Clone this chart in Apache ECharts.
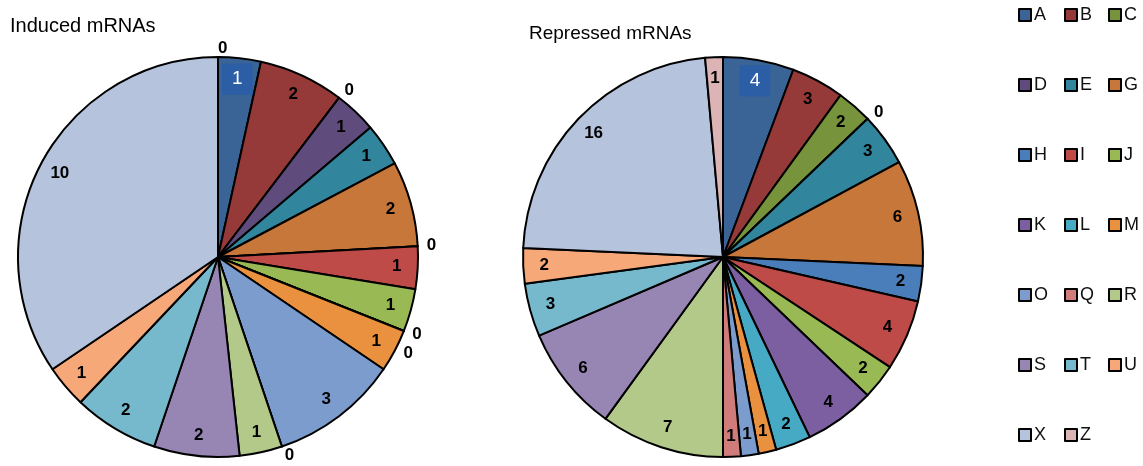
<!DOCTYPE html>
<html>
<head>
<meta charset="utf-8">
<script src="https://cdn.jsdelivr.net/npm/echarts@6/dist/echarts.min.js"></script>
<style>
html, body { margin: 0; padding: 0; background: #fff; }
#chart { width: 1143px; height: 466px; }
</style>
</head>
<body>
<div id="chart"></div>
<script>
var names = ['A', 'B', 'C', 'D', 'E', 'G', 'H', 'I', 'J', 'K', 'L', 'M', 'O', 'Q', 'R', 'S', 'T', 'U', 'X', 'Z'];
var induced = [1, 2, 0, 1, 1, 2, 0, 1, 1, 0, 0, 1, 3, 0, 1, 2, 2, 1, 10, 0];
var repressed = [4, 3, 2, 0, 3, 6, 2, 4, 2, 4, 2, 1, 1, 1, 7, 6, 3, 2, 16, 1];
var colors = ['#3b6496', '#953a38', '#77933c', '#5f4b7c', '#31859c', '#c7773a', '#4a7ebb',
    '#be4b48', '#98b954', '#7c5fa0', '#46aac5', '#e9913f', '#7b9ccd', '#cf7c7b',
    '#b2c98a', '#9785b3', '#76b9cd', '#f6a878', '#b5c3dd', '#dcb4b5'];
var legendCols = [
    ['A', 'D', 'H', 'K', 'O', 'S', 'X'],
    ['B', 'E', 'I', 'L', 'Q', 'T', 'Z'],
    ['C', 'G', 'J', 'M', 'R', 'U']
];

var font = "'Liberation Sans', Arial, sans-serif";

// the solid pie
function sliceData(values) {
    return values.map(function (v, i) {
        return { name: names[i], value: v, itemStyle: { color: colors[i] } };
    });
}

// same slices again, transparent ring, just to place the labels near the rim
function labelData(values) {
    return values.map(function (v, i) {
        var item = { name: names[i], value: v };
        if (v === 0) {
            item.label = { position: 'outside' };
        } else if (i === 0) {
            item.label = {
                color: '#fff', fontWeight: 'normal', fontSize: 19,
                backgroundColor: '#2c5ea6', padding: [6, 10]
            };
        }
        return item;
    });
}

function pieSeries(values, cx) {
    return [{
        type: 'pie',
        center: [cx, 257],
        radius: 200,
        silent: true,
        label: { show: false },
        labelLine: { show: false },
        itemStyle: { borderColor: '#000', borderWidth: 2 },
        data: sliceData(values)
    }, {
        type: 'pie',
        center: [cx, 257],
        radius: [152, 200],
        silent: true,
        legendHoverLink: false,
        itemStyle: { color: 'rgba(0,0,0,0)', borderWidth: 0 },
        label: {
            show: true,
            position: 'inside',
            formatter: '{c}',
            color: '#000',
            fontWeight: 'bold',
            fontSize: 17,
            fontFamily: font,
            distanceToLabelLine: 0
        },
        labelLine: { show: false, length: 9, length2: 0 },
        data: labelData(values)
    }];
}

var chart = echarts.init(document.getElementById('chart'));
chart.setOption({
    animation: false,
    title: [{
        text: 'Induced mRNAs', left: 10, top: 16, padding: 0,
        textStyle: { fontSize: 20, fontWeight: 'normal', color: '#000', fontFamily: font }
    }, {
        text: 'Repressed mRNAs', left: 529, top: 24, padding: 0,
        textStyle: { fontSize: 19, fontWeight: 'normal', color: '#000', fontFamily: font }
    }],
    legend: legendCols.map(function (col, k) {
        return {
            orient: 'vertical',
            left: [1018, 1064, 1108][k],
            top: 6,
            padding: 0,
            itemGap: 52,
            itemWidth: 12,
            itemHeight: 12,
            icon: 'rect',
            selectedMode: false,
            itemStyle: { borderColor: '#000', borderWidth: 2 },
            textStyle: { fontSize: 18, lineHeight: 18, color: '#111', fontFamily: font, padding: [0, 0, 0, -2] },
            data: col
        };
    }),
    series: pieSeries(induced, 218).concat(pieSeries(repressed, 723))
});
</script>
</body>
</html>
